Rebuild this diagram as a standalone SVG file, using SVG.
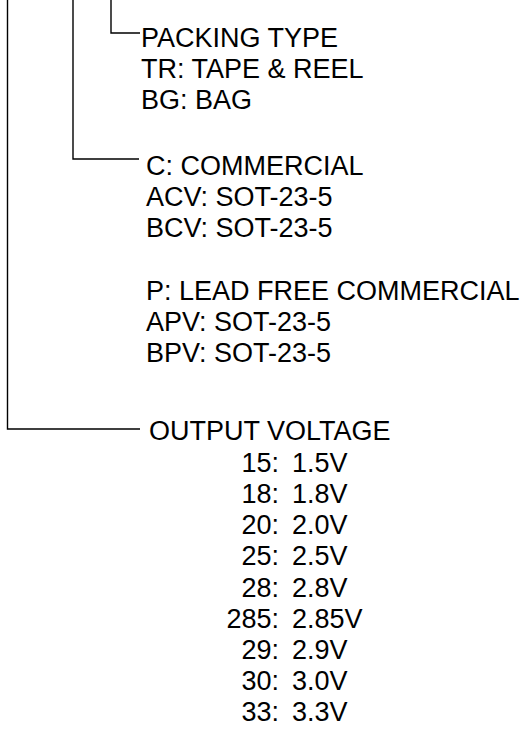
<svg xmlns="http://www.w3.org/2000/svg" width="524" height="729" viewBox="0 0 524 729">
<style>
text{font-family:"Liberation Sans",Arial,sans-serif;font-size:27px;fill:#000}
.r{text-anchor:end}
.ln{stroke:#000;stroke-width:1.4;fill:none}
</style>
<rect width="524" height="729" fill="#fff"/>
<g id="connectors">
<path class="ln" d="M111,0 V33 H140"/>
<path class="ln" d="M73,0 V159 H139"/>
<path class="ln" d="M7.5,0 V429 H140"/>
</g>
<g id="packing">
<text x="141" y="47">PACKING TYPE</text>
<text x="141" y="78">TR: TAPE &amp; REEL</text>
<text x="141" y="109">BG: BAG</text>
</g>
<g id="package">
<text x="146" y="175">C: COMMERCIAL</text>
<text x="146" y="206">ACV: SOT-23-5</text>
<text x="146" y="237">BCV: SOT-23-5</text>
<text x="146" y="300">P: LEAD FREE COMMERCIAL</text>
<text x="146" y="331">APV: SOT-23-5</text>
<text x="146" y="362">BPV: SOT-23-5</text>
</g>
<g id="voltage">
<text x="149" y="440">OUTPUT VOLTAGE</text>
<text class="r" x="279" y="472">15:</text><text x="292" y="472">1.5V</text>
<text class="r" x="279" y="503">18:</text><text x="292" y="503">1.8V</text>
<text class="r" x="279" y="534">20:</text><text x="292" y="534">2.0V</text>
<text class="r" x="279" y="565">25:</text><text x="292" y="565">2.5V</text>
<text class="r" x="279" y="597">28:</text><text x="292" y="597">2.8V</text>
<text class="r" x="279" y="628">285:</text><text x="292" y="628">2.85V</text>
<text class="r" x="279" y="659">29:</text><text x="292" y="659">2.9V</text>
<text class="r" x="279" y="690">30:</text><text x="292" y="690">3.0V</text>
<text class="r" x="279" y="721">33:</text><text x="292" y="721">3.3V</text>
</g>
</svg>
